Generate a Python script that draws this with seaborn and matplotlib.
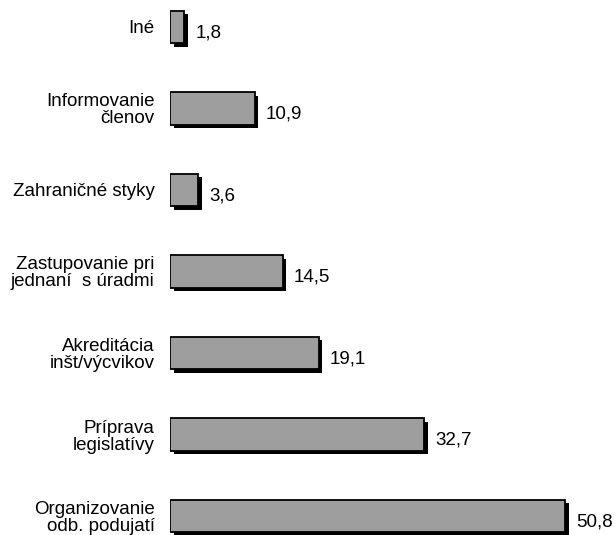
import matplotlib
matplotlib.use("Agg")
import matplotlib.pyplot as plt
import matplotlib.patheffects as pe
import seaborn as sns
import pandas as pd

categories = [
    "Iné",
    "Informovanie\nčlenov",
    "Zahraničné styky",
    "Zastupovanie pri\njednaní  s úradmi",
    "Akreditácia\ninšt/výcvikov",
    "Príprava\nlegislatívy",
    "Organizovanie\nodb. podujatí",
]
values = [1.8, 10.9, 3.6, 14.5, 19.1, 32.7, 50.8]

df = pd.DataFrame({"cat": categories, "val": values})

sns.set_theme(style="white")
plt.rcParams["font.family"] = ["Liberation Sans", "DejaVu Sans"]

fig = plt.figure(figsize=(6.15, 5.35), dpi=100)
ax = fig.add_axes([0.2764, 0.0, 0.7236, 1.0])

sns.barplot(data=df, x="val", y="cat", orient="h", color="#9e9e9e",
            saturation=1, edgecolor="black", linewidth=1.3, width=0.40, ax=ax)

for p in ax.patches:
    p.set_path_effects([
        pe.SimplePatchShadow(offset=(2.6, -2.6), shadow_rgbFace="black", alpha=1.0),
        pe.Normal(),
    ])

for i, v in enumerate(values):
    ax.text(v + 1.45, i + 0.07, f"{v:.1f}".replace(".", ","),
            ha="left", va="center", fontsize=13.5, color="black")

ax.set_xlim(0, 57.2)
ax.set_ylim(6.233, -0.331)
ax.set_xlabel("")
ax.set_ylabel("")
ax.set_xticks([])
ax.tick_params(axis="y", length=0, pad=11)
for lbl in ax.get_yticklabels():
    lbl.set_fontsize(13.5)
    lbl.set_color("black")
    lbl.set_linespacing(1.0)
    lbl.set_horizontalalignment("right")
for s in ax.spines.values():
    s.set_visible(False)

fig.savefig("out.png", dpi=100, facecolor="white")
